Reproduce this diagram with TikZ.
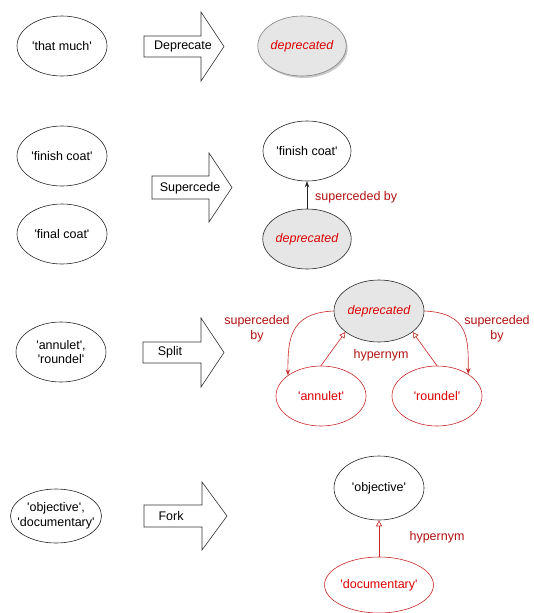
\documentclass[tikz,border=0pt]{standalone}
\usepackage{fontspec}
\setmainfont{Liberation Sans}
\usetikzlibrary{arrows.meta,shapes.geometric,shadows}
\newcommand{\qq}{\textquotesingle}
\definecolor{depred}{RGB}{220,0,0}
\definecolor{labred}{RGB}{178,16,16}
\definecolor{edred}{RGB}{200,40,40}
\definecolor{depgray}{RGB}{230,230,230}
\tikzset{
  ell/.style={ellipse, draw=black!85, line width=0.6pt, fill=white, minimum width=90pt, minimum height=60pt, inner sep=0pt, align=center, font=\fontsize{12.5}{14.5}\selectfont},
  depr/.style={ell, fill=depgray, text=depred, font=\fontsize{12.5}{14.5}\selectfont\itshape},
  redell/.style={ell, draw=edred, text=depred},
  blockarrow/.style={draw=black!80, line width=0.6pt, fill=white, line join=miter},
  btext/.style={font=\fontsize{12.5}{14.5}\selectfont, inner sep=0pt},
  lab/.style={font=\fontsize{12.5}{14.5}\selectfont, text=labred, inner sep=0pt, align=center},
  blackedge/.style={draw=black!85, line width=0.6pt, -{Stealth[length=6pt,width=4.5pt]}},
  redsup/.style={draw=edred, line width=0.6pt, -{Stealth[length=6pt,width=4.5pt]}},
  hyper/.style={draw=edred, line width=0.6pt, -{Triangle[open, length=6pt, width=6pt, fill=white]}}
}
\begin{document}
\begin{tikzpicture}[x=1pt,y=1pt]
\useasboundingbox (0,0) rectangle (533,-613);
% row 1
\node[ell] (thatmuch) at (62,-46) {\qq that much\qq};
\draw[blockarrow] (144,-36) -- (201,-36) -- (201,-12) -- (224,-46.5) -- (201,-81) -- (201,-57) -- (144,-57) -- cycle;
\node[btext] (deprecate) at (183,-46) {Deprecate};
\node[depr, draw=black!50, minimum width=86pt, drop shadow={shadow xshift=1.5pt, shadow yshift=-2pt, fill=black!35, opacity=0.6}] (dep1) at (302,-46) {deprecated};
% row 2
\node[ell] (finishL) at (62,-156) {\qq finish coat\qq};
\node[ell] (finalL) at (62,-234) {\qq final coat\qq};
\draw[blockarrow] (152,-176) -- (209,-176) -- (209,-153) -- (232,-187.5) -- (209,-222) -- (209,-199) -- (152,-199) -- cycle;
\node[btext] (supercede) at (190,-188) {Supercede};
\node[ell, minimum width=88pt] (finishR) at (307,-151) {\qq finish coat\qq};
\node[depr, minimum width=88pt] (dep2) at (307,-239) {deprecated};
\draw[blackedge] (dep2) -- (finishR);
\node[lab, anchor=west] (sup2) at (315,-197) {superceded by};
% row 3
\node[ell] (annroundL) at (61,-352) {\qq annulet\qq,\\\qq roundel\qq};
\draw[blockarrow] (143,-342) -- (201,-342) -- (201,-318) -- (224,-352.5) -- (201,-387) -- (201,-363) -- (143,-363) -- cycle;
\node[btext] (split) at (170,-352) {Split};
\node[depr, minimum height=62pt] (dep3) at (379,-311) {deprecated};
\node[redell] (annulet) at (321,-396) {\qq annulet\qq};
\node[redell] (roundel) at (437,-396) {\qq roundel\qq};
\draw[redsup] (dep3.west) .. controls +(-45pt,-2pt) and +(0pt,35pt) .. (annulet.148);
\draw[redsup] (dep3.east) .. controls +(45pt,-2pt) and +(0pt,35pt) .. (roundel.35);
\draw[hyper] (annulet.north) -- (dep3.212);
\draw[hyper] (roundel.north) -- (dep3.328);
\node[lab] (sup3l) at (257,-329) {superceded\\by};
\node[lab] (sup3r) at (497,-329) {superceded\\by};
\node[lab] (hyp3) at (381,-355) {hypernym};
% row 4
\draw[draw=black!85, line width=0.6pt, fill=white] (56,-516) ellipse [x radius=45.5pt, y radius=27pt];
\node[btext, align=center] (objdocL) at (56,-516) {\qq objective\qq,\\\qq documentary\qq};
\draw[blockarrow] (144,-505) -- (202,-505) -- (202,-482) -- (227,-516) -- (202,-550) -- (202,-527) -- (144,-527) -- cycle;
\node[btext] (fork) at (171,-516) {Fork};
\node[ell, minimum height=64pt] (objective) at (379,-488) {\qq objective\qq};
\node[redell, minimum height=56pt] (documentary) at (379,-585) {\qq documentary\qq};
\draw[hyper] (documentary) -- (objective);
\node[lab] (hyp4) at (437,-537) {hypernym};
\end{tikzpicture}
\end{document}
